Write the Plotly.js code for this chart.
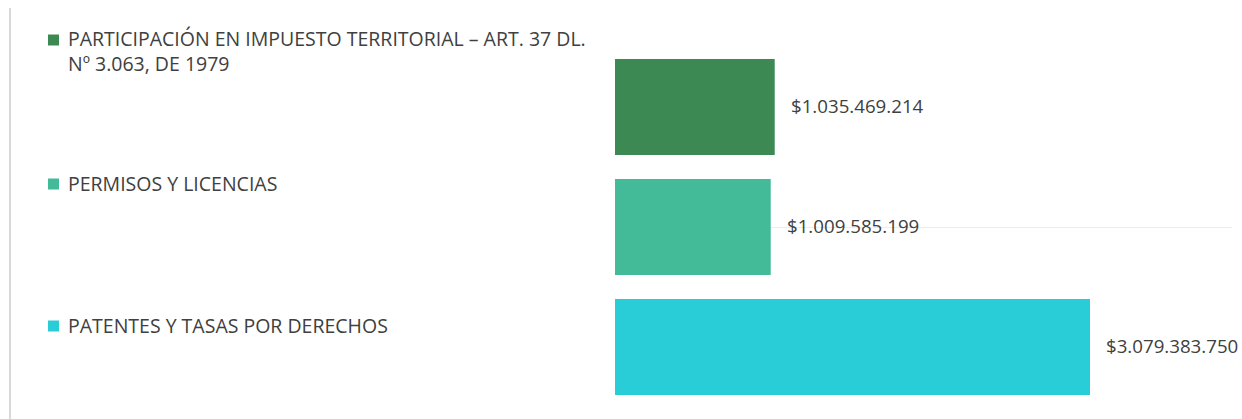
<!DOCTYPE html>
<html>
<head>
<meta charset="utf-8">
<script src="https://cdn.plot.ly/plotly-3.0.1.min.js"></script>
<style>html,body{margin:0;padding:0;background:#fff;}#chart{width:1242px;height:419px;}</style>
</head>
<body>
<div id="chart"></div>
<script>
const categories = [
  "PARTICIPACIÓN EN IMPUESTO TERRITORIAL – ART. 37 DL.<br>Nº 3.063, DE 1979",
  "PERMISOS Y LICENCIAS",
  "PATENTES Y TASAS POR DERECHOS"
];
const values = [1035469214, 1009585199, 3079383750];
const colors = ["#3D8954", "#43BB98", "#28CDD7"];

function fmt(n) {
  return "$" + n.toString().replace(/\B(?=(\d{3})+(?!\d))/g, ".");
}

const FONT = "Open Sans, sans-serif";
const TXT = "#404040";
const keys = categories.map((c, i) => "c" + i);

const trace = {
  type: "bar",
  orientation: "h",
  x: values,
  y: keys,
  marker: { color: colors },
  hoverinfo: "none",
  showlegend: false
};

// plot area geometry
const L = 615, T = 47, H = 360;
const labelTops = [39, 183, 325]; // pixel centers of first text line
const annotations = [];
const shapes = [];

categories.forEach((c, i) => {
  const lines = c.split("<br>").length;
  const blockCenter = labelTops[i] + (lines - 1) * 12.5;
  annotations.push({
    xref: "paper", yref: "paper", x: 0, xshift: 66 - L,
    y: (T + H - blockCenter) / H, xanchor: "left", yanchor: "middle",
    text: c, showarrow: false, align: "left",
    font: { family: FONT, size: 19.5, color: TXT }
  });
  shapes.push({
    type: "rect", xref: "paper", yref: "paper",
    xsizemode: "pixel", ysizemode: "pixel",
    xanchor: 0, x0: 48 - L, x1: 59 - L,
    yanchor: (T + H - labelTops[i] - 1) / H, y0: -5.5, y1: 5.5,
    fillcolor: colors[i], line: { width: 0 }
  });
  annotations.push({
    xref: "x", yref: "y", x: values[i], y: keys[i],
    xanchor: "left", yanchor: "middle", xshift: 14, yshift: 2,
    text: fmt(values[i]), showarrow: false,
    font: { family: FONT, size: 18.7, color: TXT }
  });
});

// left border line
shapes.push({
  type: "line", xref: "paper", yref: "paper",
  xsizemode: "pixel", xanchor: 0, x0: 10 - L, x1: 10 - L,
  y0: (T + H - 8) / H, y1: (T + H - 419) / H,
  line: { color: "#d9d9d9", width: 2 }
});

const layout = {
  width: 1242, height: 419,
  margin: { l: L, r: 10, t: T, b: 419 - T - H },
  paper_bgcolor: "#fff", plot_bgcolor: "#fff",
  bargap: 0.2,
  xaxis: { range: [0, 4e9], showgrid: false, zeroline: false, showticklabels: false, showline: false, fixedrange: true },
  yaxis: {
    type: "category", categoryorder: "array", categoryarray: keys,
    autorange: "reversed", showticklabels: false, ticks: "",
    tickvals: [keys[1]], showgrid: true, gridcolor: "#ececec", gridwidth: 1,
    zeroline: false, showline: false, fixedrange: true
  },
  annotations: annotations,
  shapes: shapes,
  font: { family: FONT, color: TXT }
};

Plotly.newPlot("chart", [trace], layout, { staticPlot: true, displayModeBar: false });
</script>
</body>
</html>
